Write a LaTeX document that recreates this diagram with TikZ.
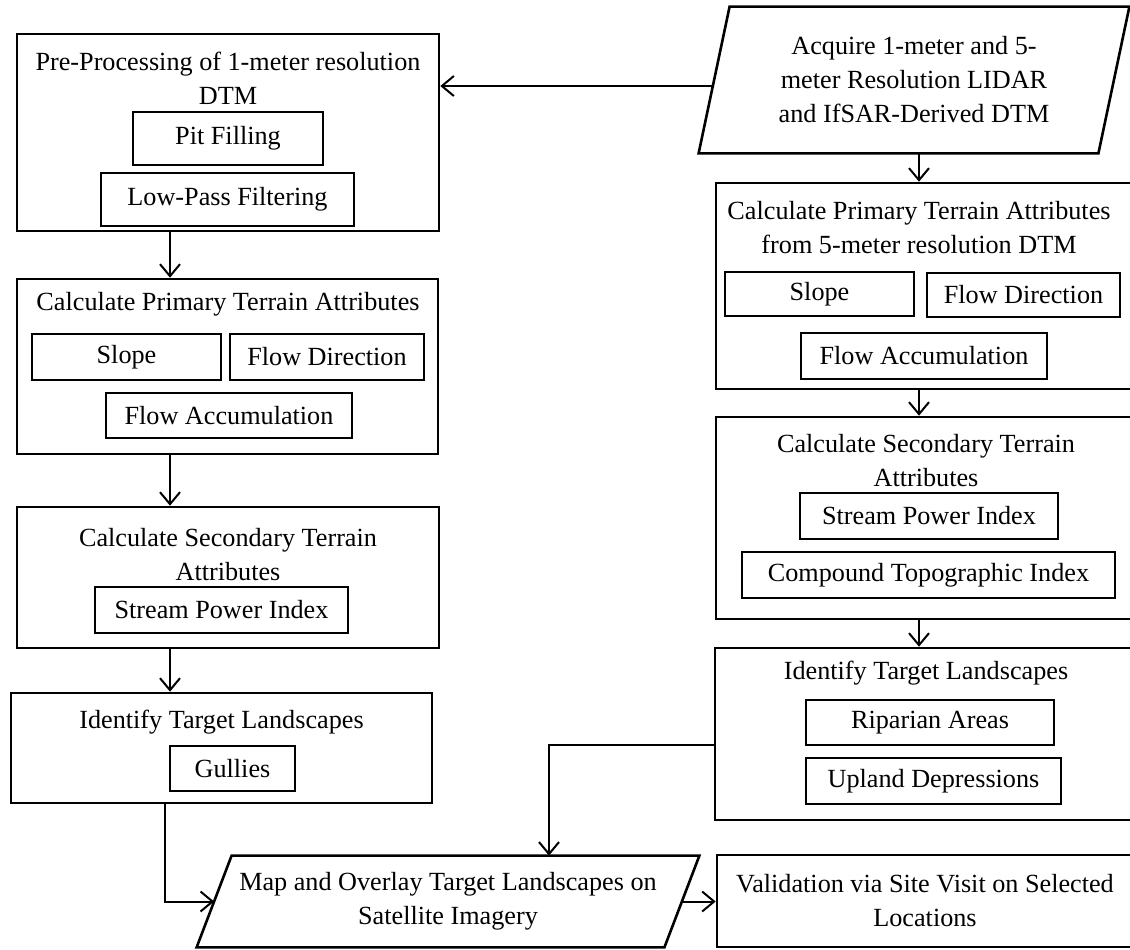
\documentclass[tikz,border=0pt]{standalone}
\usepackage{fontspec}
\setmainfont{Liberation Serif}
\usetikzlibrary{arrows.meta}
\begin{document}
\begin{tikzpicture}[x=0.5pt,y=-0.5pt,
  font=\fontsize{13.1}{17}\selectfont,
  >={Straight Barb[length=6pt,width=10pt]},
  big/.style={draw,line width=1.3pt,inner sep=0pt},
  small/.style={draw,line width=1.1pt,inner sep=0pt},
  io/.style={inner sep=0pt,align=center},
  slant/.style={line width=1.3pt},
  link/.style={->,line width=1pt}]
\useasboundingbox (0,0) rectangle (1130,949);

\node[big,minimum width=211pt,minimum height=98.5pt] (pre) at (228,132.5) {};
\node[align=center] (preT) at (228,78) {Pre-Processing of 1-meter resolution\\DTM};
\node[small,minimum width=95pt,minimum height=26.5pt] (pit) at (228,138.5) {Pit Filling};
\node[small,minimum width=126.5pt,minimum height=26.5pt] (lowpass) at (227.5,199.5) {Low-Pass Filtering};

\node[big,minimum width=210.5pt,minimum height=87.5pt] (prim) at (227.5,366.5) {};
\node (primT) at (228,304) {Calculate Primary Terrain Attributes};
\node[small,minimum width=94.5pt,minimum height=23pt] (slope) at (126.5,357) {Slope};
\node[small,minimum width=97pt,minimum height=23pt] (flowdir) at (327,357) {Flow Direction};
\node[small,minimum width=123pt,minimum height=22.5pt] (flowacc) at (229,415.5) {Flow Accumulation};

\node[big,minimum width=211pt,minimum height=70.5pt] (sec) at (228,577.5) {};
\node[align=center] (secT) at (228,555) {Calculate Secondary Terrain\\Attributes};
\node[small,minimum width=126.5pt,minimum height=23pt] (spi) at (221.5,610) {Stream Power Index};

\node[big,minimum width=210.5pt,minimum height=55pt] (idL) at (221.5,748) {};
\node (idLT) at (221.5,722) {Identify Target Landscapes};
\node[small,minimum width=62.5pt,minimum height=22.5pt] (gullies) at (232.5,768.5) {Gullies};

\node[io,minimum width=199.5pt,minimum height=73pt] (acq) at (914,80) {Acquire 1-meter and 5-\\meter Resolution LIDAR\\and IfSAR-Derived DTM};
\draw[slant] ([xshift=-7.75pt]acq.south west) -- ([xshift=7.75pt]acq.north west) -- ([xshift=7.75pt]acq.north east) -- ([xshift=-7.75pt]acq.south east) -- cycle;

\node[big,minimum width=208.5pt,minimum height=103pt] (primR) at (924.5,286) {};
\node[align=center] (primRT) at (919,228) {Calculate Primary Terrain Attributes\\from 5-meter resolution DTM};
\node[small,minimum width=94.5pt,minimum height=22pt] (slopeR) at (819.5,294) {Slope};
\node[small,minimum width=96.5pt,minimum height=22pt] (flowdirR) at (1023.5,295) {Flow Direction};
\node[small,minimum width=123pt,minimum height=23pt] (flowaccR) at (924,356) {Flow Accumulation};

\node[big,minimum width=208.5pt,minimum height=101pt] (secR) at (924.5,518) {};
\node[align=center] (secRT) at (926,460.5) {Calculate Secondary Terrain\\Attributes};
\node[small,minimum width=129pt,minimum height=23pt] (spiR) at (929,516) {Stream Power Index};
\node[small,minimum width=186.5pt,minimum height=23pt] (ctiR) at (928.5,575) {Compound Topographic Index};

\node[big,minimum width=209pt,minimum height=86pt] (idR) at (924,734) {};
\node (idRT) at (926,673) {Identify Target Landscapes};
\node[small,minimum width=124pt,minimum height=22.5pt] (ripR) at (930,722.5) {Riparian Areas};
\node[small,minimum width=127.5pt,minimum height=23pt] (uplR) at (933.5,781) {Upland Depressions};

\node[io,minimum width=233.5pt,minimum height=45.5pt] (map) at (448,901.5) {Map and Overlay Target Landscapes on\\Satellite Imagery};
\draw[slant] ([xshift=-8.75pt]map.south west) -- ([xshift=8.75pt]map.north west) -- ([xshift=8.75pt]map.north east) -- ([xshift=-8.75pt]map.south east) -- cycle;
\node[big,align=center,minimum width=208pt,minimum height=46pt] (val) at (925,901) {Validation via Site Visit on Selected\\Locations};

\coordinate (lx) at (170,0);
\coordinate (gx) at (165,0);
\coordinate (rx) at (919,0);
\coordinate (mx) at (549,0);

\draw[link] ([yshift=-3pt]acq.west) -- ([yshift=-3pt]acq.west -| pre.east);
\draw[link] (pre.south -| lx) -- (prim.north -| lx);
\draw[link] (prim.south -| lx) -- (sec.north -| lx);
\draw[link] (sec.south -| lx) -- (idL.north -| lx);
\draw[link] (idL.south -| gx) |- (map.west);
\draw[link] (acq.south -| rx) -- (primR.north -| rx);
\draw[link] (primR.south -| rx) -- (secR.north -| rx);
\draw[link] (secR.south -| rx) -- (idR.north -| rx);
\draw[link] ([yshift=-5.5pt]idR.west) -| (map.north -| mx);
\draw[link] (map.east) -- (map.east -| val.west);
\end{tikzpicture}
\end{document}
